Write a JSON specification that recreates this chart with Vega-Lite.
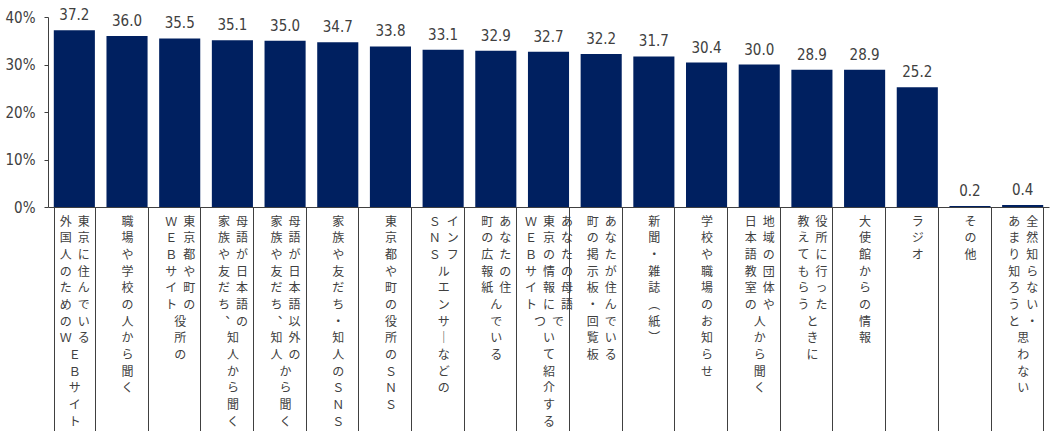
{
  "$schema": "https://vega.github.io/schema/vega-lite/v6.json",
  "width": 1001,
  "height": 190,
  "autosize": {"type": "none"},
  "padding": {"left": 48, "top": 17, "right": 6, "bottom": 224},
  "background": "white",
  "config": {"view": {"stroke": null}},
  "data": {
    "values": [
      {"item": "東京に住んでいる外国人のためのWEBサイト", "value": 37.2, "label": "外\u2002東|国\u2002京|人\u2002に|の\u2002住|た\u2002ん|め\u2002で|の\u2002い|Ｗ\u2002る|Ｅ\u2002\u3000|Ｂ\u2002\u3000|サ\u2002\u3000|イ\u2002\u3000|ト\u2002\u3000"},
      {"item": "職場や学校の人から聞く", "value": 36.0, "label": "職|場|や|学|校|の|人|か|ら|聞|く"},
      {"item": "東京都や町の役所のWEBサイト", "value": 35.5, "label": "Ｗ\u2002東|Ｅ\u2002京|Ｂ\u2002都|サ\u2002や|イ\u2002町|ト\u2002の|\u3000\u2002役|\u3000\u2002所|\u3000\u2002の"},
      {"item": "母語が日本語の家族や友だち、知人から聞く", "value": 35.1, "label": "家\u2002母|族\u2002語|や\u2002が|友\u2002日|だ\u2002本|ち\u2002語|︑\u2002の|知\u2002\u3000|人\u2002\u3000|か\u2002\u3000|ら\u2002\u3000|聞\u2002\u3000|く\u2002\u3000"},
      {"item": "母語が日本語以外の家族や友だち、知人から聞く", "value": 35.0, "label": "家\u2002母|族\u2002語|や\u2002が|友\u2002日|だ\u2002本|ち\u2002語|︑\u2002以|知\u2002外|人\u2002の|か\u2002\u3000|ら\u2002\u3000|聞\u2002\u3000|く\u2002\u3000"},
      {"item": "家族や友だち・知人のSNS", "value": 34.7, "label": "家|族|や|友|だ|ち|・|知|人|の|Ｓ|Ｎ|Ｓ"},
      {"item": "東京都や町の役所のSNS", "value": 33.8, "label": "東|京|都|や|町|の|役|所|の|Ｓ|Ｎ|Ｓ"},
      {"item": "インフルエンサーなどのSNS", "value": 33.1, "label": "Ｓ\u2002イ|Ｎ\u2002ン|Ｓ\u2002フ|\u3000\u2002ル|\u3000\u2002エ|\u3000\u2002ン|\u3000\u2002サ|\u3000\u2002｜|\u3000\u2002な|\u3000\u2002ど|\u3000\u2002の"},
      {"item": "あなたの住んでいる町の広報紙", "value": 32.9, "label": "町\u2002あ|の\u2002な|広\u2002た|報\u2002の|紙\u2002住|\u3000\u2002ん|\u3000\u2002で|\u3000\u2002い|\u3000\u2002る"},
      {"item": "あなたの母語で東京の情報について紹介するWEBサイト", "value": 32.7, "label": "Ｗ\u2002東\u2002あ|Ｅ\u2002京\u2002な|Ｂ\u2002の\u2002た|サ\u2002情\u2002の|イ\u2002報\u2002母|ト\u2002に\u2002語|\u3000\u2002つ\u2002で|\u3000\u2002い\u2002\u3000|\u3000\u2002て\u2002\u3000|\u3000\u2002紹\u2002\u3000|\u3000\u2002介\u2002\u3000|\u3000\u2002す\u2002\u3000|\u3000\u2002る\u2002\u3000"},
      {"item": "あなたが住んでいる町の掲示板・回覧板", "value": 32.2, "label": "町\u2002あ|の\u2002な|掲\u2002た|示\u2002が|板\u2002住|・\u2002ん|回\u2002で|覧\u2002い|板\u2002る"},
      {"item": "新聞・雑誌（紙）", "value": 31.7, "label": "新|聞|・|雑|誌|︵|紙|︶"},
      {"item": "学校や職場のお知らせ", "value": 30.4, "label": "学|校|や|職|場|の|お|知|ら|せ"},
      {"item": "地域の団体や日本語教室の人から聞く", "value": 30.0, "label": "日\u2002地|本\u2002域|語\u2002の|教\u2002団|室\u2002体|の\u2002や|人\u2002\u3000|か\u2002\u3000|ら\u2002\u3000|聞\u2002\u3000|く\u2002\u3000"},
      {"item": "役所に行ったときに教えてもらう", "value": 28.9, "label": "教\u2002役|え\u2002所|て\u2002に|も\u2002行|ら\u2002っ|う\u2002た|\u3000\u2002と|\u3000\u2002き|\u3000\u2002に"},
      {"item": "大使館からの情報", "value": 28.9, "label": "大|使|館|か|ら|の|情|報"},
      {"item": "ラジオ", "value": 25.2, "label": "ラ|ジ|オ"},
      {"item": "その他", "value": 0.2, "label": "そ|の|他"},
      {"item": "全然知らない・あまり知ろうと思わない", "value": 0.4, "label": "あ\u2002全|ま\u2002然|り\u2002知|知\u2002ら|ろ\u2002な|う\u2002い|と\u2002・|思\u2002\u3000|わ\u2002\u3000|な\u2002\u3000|い\u2002\u3000"}
    ]
  },
  "encoding": {
    "x": {
      "field": "label",
      "type": "nominal",
      "sort": null,
      "scale": {"paddingInner": 0.22, "paddingOuter": 0.11},
      "axis": {
        "title": null,
        "labelExpr": "split(datum.label, '|')",
        "labelAngle": 0,
        "labelAlign": "center",
        "labelBaseline": "top",
        "labelFont": "Noto Sans CJK JP",
        "labelFontSize": 12,
        "labelColor": "#404040",
        "labelLineHeight": 16.7,
        "labelPadding": -215,
        "labelOverlap": false,
        "labelBound": false,
        "labelLimit": 0,
        "tickBand": "extent",
        "tickSize": 224,
        "tickColor": "#404040",
        "domainColor": "#404040"
      }
    },
    "y": {
      "field": "value",
      "type": "quantitative",
      "scale": {"domain": [0, 40]},
      "axis": {
        "title": null,
        "values": [0, 10, 20, 30, 40],
        "labelExpr": "datum.value + '%'",
        "grid": false,
        "tickSize": 4,
        "tickColor": "#404040",
        "domainColor": "#404040",
        "labelFont": "'Liberation Sans Narrow', 'DejaVu Sans Condensed', sans-serif",
        "labelFontSize": 15,
        "labelColor": "#404040",
        "labelPadding": 9
      }
    }
  },
  "layer": [
    {"mark": {"type": "bar", "color": "#002060"}},
    {
      "mark": {
        "type": "text",
        "baseline": "bottom",
        "dy": -7,
        "font": "'Liberation Sans Narrow', 'DejaVu Sans Condensed', sans-serif",
        "fontSize": 15,
        "color": "#404040"
      },
      "encoding": {"text": {"field": "value", "type": "quantitative", "format": ".1f"}}
    }
  ]
}
